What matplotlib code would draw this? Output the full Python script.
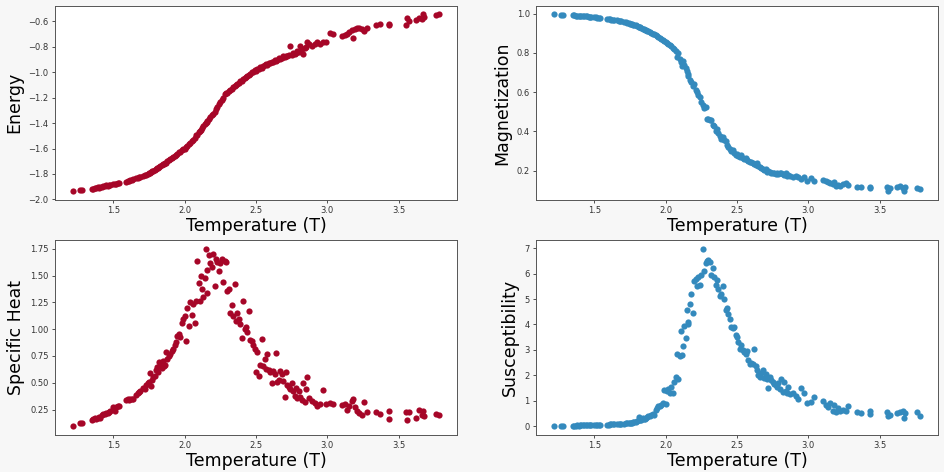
import matplotlib
matplotlib.use('Agg')
import matplotlib.pyplot as plt

# temperatures of the simulation runs (same grid for all four observables)
temperature = [
    1.22, 1.27, 1.28, 1.35, 1.36, 1.37, 1.38, 1.39, 1.40, 1.41, 1.42, 1.43, 1.44, 1.45, 1.46, 1.47, 1.48, 1.50, 1.51, 1.52, 1.53, 1.54,
    1.59, 1.60, 1.61, 1.62, 1.63, 1.64, 1.66, 1.67, 1.68, 1.69,
    1.71, 1.72, 1.73, 1.74, 1.75, 1.76, 1.765, 1.77, 1.78, 1.79, 1.80, 1.81, 1.815, 1.82, 1.83, 1.84,
    1.85, 1.855, 1.86, 1.87, 1.88, 1.89, 1.90, 1.91, 1.92, 1.93, 1.94, 1.95, 1.96, 1.97, 1.98, 1.99,
    2.00, 2.01, 2.02, 2.03, 2.04, 2.05, 2.06, 2.07, 2.08, 2.09, 2.10, 2.11, 2.115, 2.12, 2.13, 2.14,
    2.15, 2.155, 2.16, 2.17, 2.18, 2.19, 2.20, 2.21, 2.22, 2.23, 2.24, 2.25, 2.26, 2.27, 2.28, 2.29,
    2.30, 2.31, 2.32, 2.33, 2.34, 2.35, 2.36, 2.37, 2.38, 2.39, 2.40, 2.41, 2.42, 2.43, 2.44, 2.45, 2.46, 2.47, 2.48, 2.49,
    2.50, 2.51, 2.52, 2.53, 2.54, 2.55, 2.56, 2.57, 2.58, 2.59, 2.60, 2.61, 2.62, 2.63, 2.64, 2.65, 2.66, 2.67, 2.68, 2.69,
    2.70, 2.71, 2.72, 2.73, 2.74, 2.75, 2.76, 2.77, 2.78, 2.79,
    2.80, 2.81, 2.82, 2.83, 2.84, 2.85, 2.86, 2.87, 2.89, 2.91, 2.93, 2.95, 2.97, 2.99, 3.02, 3.04,
    3.10, 3.12, 3.14, 3.15, 3.17, 3.18, 3.19, 3.21, 3.22, 3.24, 3.26, 3.28,
    3.34, 3.37, 3.43, 3.43, 3.55, 3.56, 3.57, 3.62, 3.64, 3.66, 3.67, 3.68, 3.76, 3.78,
]

energy = [
    -1.935, -1.925, -1.925, -1.915, -1.915, -1.91, -1.912, -1.905, -1.907, -1.90, -1.902, -1.895, -1.897, -1.89, -1.892, -1.885, -1.887, -1.88, -1.882, -1.875, -1.87, -1.872,
    -1.86, -1.855, -1.852, -1.85, -1.845, -1.842, -1.835, -1.83, -1.826, -1.82,
    -1.815, -1.81, -1.805, -1.80, -1.795, -1.79, -1.786, -1.78, -1.775, -1.768, -1.76, -1.755, -1.75, -1.745, -1.74, -1.73,
    -1.725, -1.72, -1.715, -1.71, -1.70, -1.69, -1.685, -1.675, -1.665, -1.66, -1.65, -1.64, -1.63, -1.625, -1.615, -1.605,
    -1.60, -1.585, -1.58, -1.565, -1.555, -1.54, -1.535, -1.52, -1.49, -1.495, -1.47, -1.46, -1.45, -1.44, -1.425, -1.41,
    -1.40, -1.39, -1.38, -1.37, -1.355, -1.335, -1.325, -1.31, -1.285, -1.27, -1.25, -1.235, -1.22, -1.20, -1.17, -1.16,
    -1.165, -1.15, -1.14, -1.13, -1.115, -1.105, -1.10, -1.09, -1.085, -1.07, -1.065, -1.055, -1.045, -1.04, -1.03, -1.02, -1.01, -1.00, -0.995, -0.985,
    -0.99, -0.975, -0.97, -0.96, -0.965, -0.95, -0.945, -0.935, -0.94, -0.93, -0.925, -0.915, -0.92, -0.905, -0.91, -0.90, -0.89, -0.895, -0.885, -0.875,
    -0.88, -0.87, -0.875, -0.865, -0.79, -0.86, -0.85, -0.855, -0.845, -0.835,
    -0.84, -0.79, -0.82, -0.857, -0.81, -0.80, -0.765, -0.775, -0.79, -0.78, -0.765, -0.78, -0.765, -0.76, -0.69, -0.70,
    -0.715, -0.71, -0.70, -0.68, -0.665, -0.73, -0.66, -0.65, -0.655, -0.66, -0.675, -0.655,
    -0.625, -0.62, -0.62, -0.625, -0.625, -0.57, -0.60, -0.585, -0.57, -0.58, -0.545, -0.565, -0.55, -0.545,
]

magnetization = [
    0.995, 0.993, 0.993, 0.99, 0.99, 0.989, 0.989, 0.988, 0.988, 0.987, 0.987, 0.986, 0.985, 0.985, 0.984, 0.983, 0.983, 0.981, 0.98, 0.979, 0.978, 0.977,
    0.972, 0.971, 0.97, 0.969, 0.968, 0.967, 0.965, 0.963, 0.962, 0.96,
    0.957, 0.955, 0.953, 0.951, 0.949, 0.947, 0.946, 0.944, 0.942, 0.939, 0.936, 0.933, 0.932, 0.929, 0.926, 0.923,
    0.92, 0.918, 0.916, 0.912, 0.909, 0.906, 0.903, 0.898, 0.894, 0.89, 0.885, 0.881, 0.876, 0.871, 0.866, 0.862,
    0.857, 0.851, 0.845, 0.84, 0.833, 0.826, 0.818, 0.81, 0.78, 0.80, 0.77, 0.755, 0.735, 0.76, 0.74, 0.72,
    0.705, 0.68, 0.69, 0.66, 0.65, 0.63, 0.64, 0.61, 0.60, 0.585, 0.575, 0.55, 0.535, 0.52, 0.525, 0.465,
    0.465, 0.46, 0.46, 0.43, 0.425, 0.40, 0.41, 0.39, 0.375, 0.36, 0.37, 0.355, 0.35, 0.33, 0.32, 0.31, 0.30, 0.305, 0.29, 0.28,
    0.285, 0.275, 0.27, 0.28, 0.265, 0.26, 0.265, 0.255, 0.25, 0.245, 0.245, 0.24, 0.235, 0.23, 0.24, 0.225, 0.22, 0.215, 0.21, 0.205,
    0.21, 0.195, 0.20, 0.195, 0.19, 0.185, 0.19, 0.18, 0.185, 0.18,
    0.185, 0.19, 0.18, 0.175, 0.185, 0.17, 0.175, 0.17, 0.165, 0.17, 0.165, 0.155, 0.165, 0.145, 0.16, 0.145,
    0.15, 0.145, 0.14, 0.135, 0.13, 0.14, 0.12, 0.125, 0.12, 0.13, 0.135, 0.125,
    0.115, 0.115, 0.118, 0.11, 0.118, 0.095, 0.11, 0.115, 0.12, 0.11, 0.095, 0.115, 0.11, 0.105,
]

specific_heat = [
    0.095, 0.12, 0.12, 0.155, 0.16, 0.17, 0.165, 0.175, 0.18, 0.17, 0.20, 0.205, 0.21, 0.22, 0.215, 0.23, 0.24, 0.27, 0.24, 0.27, 0.285, 0.28,
    0.34, 0.345, 0.34, 0.345, 0.35, 0.345, 0.39, 0.40, 0.41, 0.42,
    0.45, 0.44, 0.48, 0.50, 0.51, 0.59, 0.47, 0.53, 0.55, 0.56, 0.62, 0.65, 0.60, 0.69, 0.66, 0.64,
    0.70, 0.66, 0.67, 0.79, 0.72, 0.75, 0.77, 0.80, 0.82, 0.85, 0.88, 0.94, 0.96, 0.93, 1.06, 1.10,
    1.12, 0.89, 1.20, 1.03, 1.25, 1.13, 1.24, 1.06, 1.26, 1.64, 1.43, 1.26, 1.50, 1.38, 1.30, 1.48,
    1.75, 1.55, 1.34, 1.69, 1.62, 1.58, 1.70, 1.40, 1.66, 1.63, 1.54, 1.62, 1.66, 1.44, 1.64, 1.63,
    1.36, 1.38, 1.15, 1.23, 1.12, 1.42, 1.08, 1.15, 1.10, 1.05, 0.92, 1.26, 1.00, 1.02, 0.97, 1.17, 0.90, 0.89, 0.85, 0.82,
    0.60, 0.79, 0.56, 0.67, 0.91, 0.66, 0.72, 0.63, 0.77, 0.62, 0.60, 0.50, 0.61, 0.58, 0.78, 0.51, 0.53, 0.61, 0.58, 0.52,
    0.37, 0.60, 0.48, 0.46, 0.44, 0.50, 0.42, 0.38, 0.45, 0.36,
    0.42, 0.37, 0.34, 0.50, 0.32, 0.44, 0.55, 0.36, 0.33, 0.31, 0.28, 0.30, 0.43, 0.30, 0.31, 0.30,
    0.29, 0.30, 0.25, 0.28, 0.33, 0.35, 0.27, 0.24, 0.22, 0.20, 0.32, 0.23,
    0.23, 0.21, 0.24, 0.16, 0.23, 0.15, 0.23, 0.17, 0.25, 0.20, 0.24, 0.19, 0.21, 0.20,
]

susceptibility = [
    0.0, 0.02, 0.01, 0.02, 0.02, 0.02, 0.03, 0.02, 0.03, 0.03, 0.03, 0.03, 0.04, 0.03, 0.04, 0.04, 0.04, 0.05, 0.04, 0.05, 0.05, 0.06,
    0.06, 0.06, 0.07, 0.07, 0.07, 0.08, 0.08, 0.09, 0.09, 0.09,
    0.10, 0.11, 0.11, 0.12, 0.13, 0.14, 0.13, 0.15, 0.17, 0.18, 0.22, 0.36, 0.26, 0.24, 0.25, 0.33,
    0.28, 0.30, 0.32, 0.34, 0.38, 0.40, 0.43, 0.47, 0.45, 0.62, 0.72, 0.78, 0.80, 0.85, 0.92, 1.42,
    0.88, 1.40, 1.48, 1.32, 1.55, 1.30, 1.72, 1.95, 2.85, 1.85, 2.75, 3.75, 2.80, 3.15, 3.95, 3.45,
    4.55, 4.10, 4.00, 4.80, 5.20, 4.45, 5.70, 5.80, 5.50, 5.85, 5.55, 5.95, 6.97, 6.10, 6.40, 6.50,
    6.55, 6.45, 5.95, 6.20, 5.85, 5.55, 5.75, 5.40, 5.10, 5.20, 5.50, 5.00, 4.55, 4.65, 4.40, 4.20, 3.90, 3.85, 3.90, 3.60,
    3.50, 3.30, 3.05, 3.20, 3.00, 2.90, 2.85, 2.95, 2.60, 2.45, 2.50, 2.45, 3.05, 2.35, 2.20, 2.00, 1.95, 2.10, 2.20, 1.90,
    2.05, 1.85, 1.50, 1.95, 1.80, 1.75, 1.65, 1.60, 1.55, 1.70,
    1.45, 1.85, 1.35, 1.75, 1.40, 1.30, 1.55, 1.25, 1.30, 1.20, 1.05, 1.50, 1.30, 0.90, 0.95, 1.15,
    1.00, 0.85, 0.75, 0.90, 0.60, 0.85, 0.55, 0.70, 0.60, 0.65, 0.60, 0.80,
    0.55, 0.52, 0.60, 0.48, 0.55, 0.40, 0.45, 0.50, 0.55, 0.60, 0.32, 0.50, 0.55, 0.38,
]

red = '#A60628'
blue = '#348ABD'

panels = [
    (energy, 'Energy', red, [0.0582, 0.5763, 0.4254, 0.4117]),
    (magnetization, 'Magnetization', blue, [0.5672, 0.5763, 0.4254, 0.4117]),
    (specific_heat, 'Specific Heat', red, [0.0582, 0.0784, 0.4254, 0.4130]),
    (susceptibility, 'Susceptibility', blue, [0.5672, 0.0784, 0.4254, 0.4130]),
]

fig = plt.figure(figsize=(9.45, 4.72), dpi=100, facecolor='#f7f7f7')

for values, label, color, pos in panels:
    ax = fig.add_axes(pos)
    ax.scatter(temperature, values, s=20, color=color, linewidths=0)
    ax.set_xlabel('Temperature (T)', fontsize=12.5, labelpad=1)
    ax.set_ylabel(label, fontsize=12.5, labelpad=4)
    ax.tick_params(labelsize=6, length=2.5, width=0.6, pad=2, colors='#333333')
    for sp in ax.spines.values():
        sp.set_linewidth(0.7)
        sp.set_color('#555555')

fig.savefig('out.png', dpi=100, facecolor=fig.get_facecolor())
